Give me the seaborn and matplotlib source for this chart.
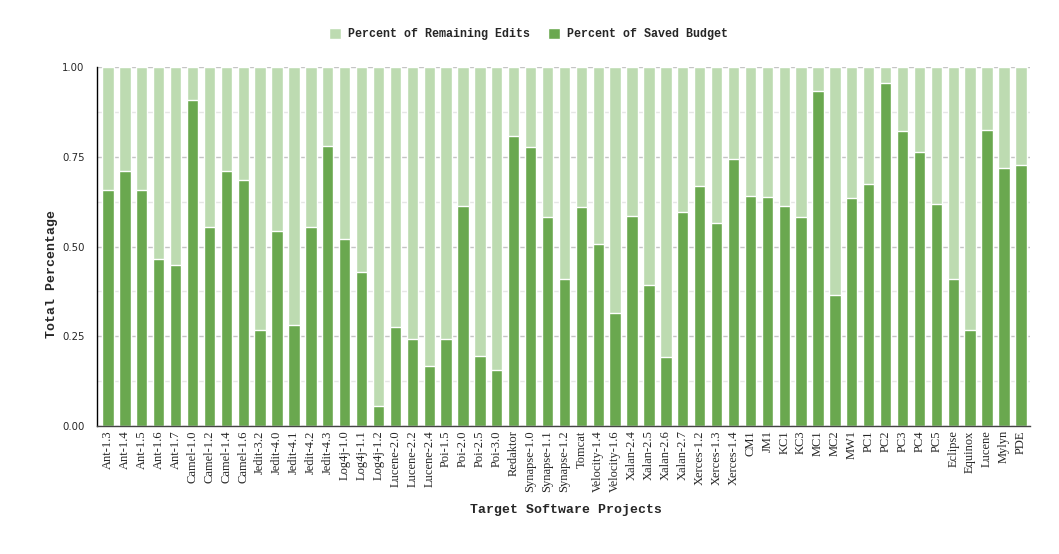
import numpy as np
import pandas as pd
import matplotlib
matplotlib.use('Agg')
import matplotlib.pyplot as plt
from matplotlib.ticker import MultipleLocator, FormatStrFormatter
import seaborn as sns

# data
projects = ['Ant-1.3', 'Ant-1.4', 'Ant-1.5', 'Ant-1.6', 'Ant-1.7',
            'Camel-1.0', 'Camel-1.2', 'Camel-1.4', 'Camel-1.6',
            'Jedit-3.2', 'Jedit-4.0', 'Jedit-4.1', 'Jedit-4.2', 'Jedit-4.3',
            'Log4j-1.0', 'Log4j-1.1', 'Log4j-1.2',
            'Lucene-2.0', 'Lucene-2.2', 'Lucene-2.4',
            'Poi-1.5', 'Poi-2.0', 'Poi-2.5', 'Poi-3.0', 'Redaktor',
            'Synapse-1.0', 'Synapse-1.1', 'Synapse-1.2', 'Tomcat',
            'Velocity-1.4', 'Velocity-1.6',
            'Xalan-2.4', 'Xalan-2.5', 'Xalan-2.6', 'Xalan-2.7',
            'Xerces-1.2', 'Xerces-1.3', 'Xerces-1.4',
            'CM1', 'JM1', 'KC1', 'KC3', 'MC1', 'MC2', 'MW1',
            'PC1', 'PC2', 'PC3', 'PC4', 'PC5',
            'Eclipse', 'Equinox', 'Lucene', 'Mylyn', 'PDE']
saved_budget = [0.658, 0.711, 0.658, 0.466, 0.449,
                0.909, 0.555, 0.711, 0.686,
                0.268, 0.544, 0.282, 0.555, 0.781,
                0.521, 0.429, 0.056,
                0.276, 0.243, 0.167,
                0.243, 0.613, 0.195, 0.156, 0.809,
                0.778, 0.583, 0.410, 0.611,
                0.507, 0.315,
                0.586, 0.393, 0.192, 0.597,
                0.669, 0.566, 0.744,
                0.641, 0.638, 0.613, 0.583, 0.934, 0.365, 0.636,
                0.675, 0.956, 0.822, 0.764, 0.619,
                0.410, 0.268, 0.825, 0.719, 0.728]
remaining_edits = [round(1 - v, 3) for v in saved_budget]

df = pd.DataFrame({'project': projects,
                   'saved': saved_budget,
                   'remaining': remaining_edits})
df['total'] = df['saved'] + df['remaining']

dark_green = '#6aa84f'
light_green = '#bddbb1'
mono = 'Liberation Mono'

sns.set_style('white')
fig = plt.figure(figsize=(10.59, 5.54), dpi=100)
ax = fig.add_axes([0.0916, 0.231, 0.8810, 0.648])

# stacked bars: full height (light) first, then saved share on top
sns.barplot(data=df, x='project', y='total', color=light_green, saturation=1,
            width=0.67, label='Percent of Remaining Edits', ax=ax)
sns.barplot(data=df, x='project', y='saved', color=dark_green, saturation=1,
            width=0.67, label='Percent of Saved Budget', ax=ax)

ax.set_ylim(0, 1.0)
ax.set_xlim(-0.65, len(projects) - 0.46)
ax.yaxis.set_major_locator(MultipleLocator(0.25))
ax.yaxis.set_minor_locator(MultipleLocator(0.125))
ax.yaxis.set_major_formatter(FormatStrFormatter('%.2f'))
ax.grid(which='major', axis='y', color='#c4c4c4', linewidth=1)
ax.grid(which='minor', axis='y', color='#e6e6e6', linewidth=1)
ax.set_axisbelow(True)

ax.tick_params(axis='y', which='major', length=0, pad=9, labelsize=7.3)
ax.tick_params(axis='y', which='minor', length=5, width=1, direction='inout', color='black')
ax.tick_params(axis='x', length=0, pad=3, labelsize=9, labelrotation=90)
for lab in ax.get_xticklabels():
    lab.set_fontfamily('Liberation Serif')
for lab in ax.get_yticklabels():
    lab.set_fontfamily('DejaVu Sans')

for side in ['top', 'right']:
    ax.spines[side].set_visible(False)
ax.spines['left'].set_color('black')
ax.spines['bottom'].set_color('#444444')
ax.spines['left'].set_linewidth(1)
ax.spines['bottom'].set_linewidth(1)

ax.set_xlabel('')
ax.set_ylabel('')
handles, labels = ax.get_legend_handles_labels()
if ax.get_legend() is not None:
    ax.get_legend().remove()

fig.text(52 / 1059, 1 - 274 / 554, 'Total Percentage', rotation=90, ha='center', va='center',
         fontfamily=mono, fontweight='bold', fontsize=9.5)
fig.text(566 / 1059, 1 - 510 / 554, 'Target Software Projects', ha='center', va='center',
         fontfamily=mono, fontweight='bold', fontsize=9.5)

fig.legend(handles, labels, loc='center', bbox_to_anchor=(0.499, 0.938), ncol=2, frameon=False,
           prop={'family': mono, 'weight': 'bold', 'size': 8.4},
           handlelength=1.0, handleheight=1.0, handletextpad=0.6, columnspacing=1.6)

fig.savefig('out.png', dpi=100)
